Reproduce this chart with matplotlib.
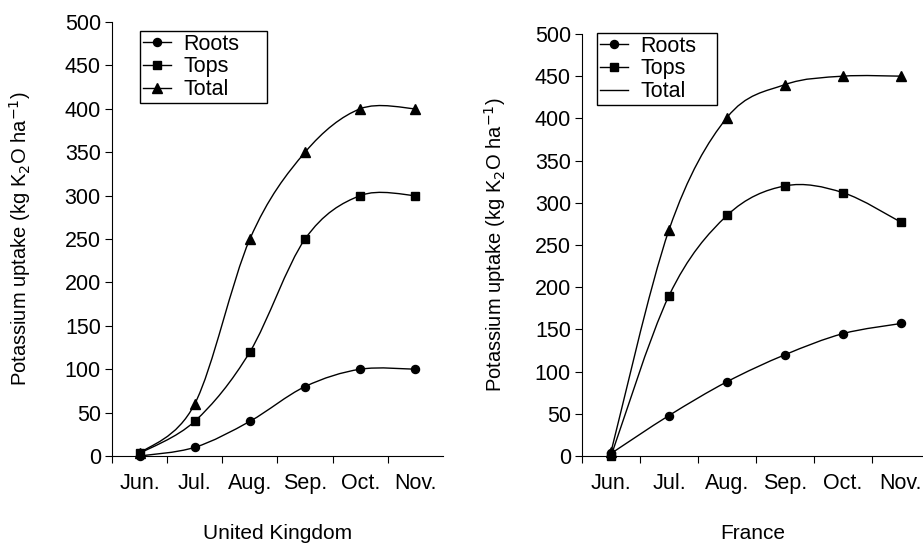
import matplotlib.pyplot as plt
import numpy as np
from matplotlib.lines import Line2D
from matplotlib.path import Path
from matplotlib.patches import PathPatch

plt.rcParams['font.family'] = ['Liberation Sans', 'DejaVu Sans']

months = ['Jun.', 'Jul.', 'Aug.', 'Sep.', 'Oct.', 'Nov.']

uk_roots = [0, 10, 40, 80, 100, 100]
uk_tops = [3, 40, 120, 250, 300, 300]
uk_total = [3, 60, 250, 350, 400, 400]

fr_roots = [3, 48, 88, 120, 145, 157]
fr_tops = [0, 190, 285, 320, 312, 277]
fr_total = [5, 268, 401, 440, 450, 450]

y_label = 'Potassium uptake (kg K$_2$O ha$^{-1}$)'


def smooth_path(xs, ys):
    # cubic bezier through the points, like a spreadsheet "smoothed line"
    pts = np.column_stack([xs, ys]).astype(float)
    ext = np.vstack([pts[0], pts, pts[-1]])
    verts = [pts[0]]
    codes = [Path.MOVETO]
    for i in range(len(pts) - 1):
        p0, p1, p2, p3 = ext[i], ext[i + 1], ext[i + 2], ext[i + 3]
        c1 = p1 + (p2 - p0) / 6
        c2 = p2 - (p3 - p1) / 6
        verts += [c1, c2, p2]
        codes += [Path.CURVE4] * 3
    return Path(verts, codes)


def draw_panel(ax, series, title, total_marker_in_legend, xmax, leg_box, ylab_x):
    x = np.arange(len(months)) + 0.5
    markers = ['o', 's', '^']
    sizes = [5.8, 6.2, 7.2]
    names = ['Roots', 'Tops', 'Total']
    for ys, m, ms in zip(series, markers, sizes):
        ax.add_patch(PathPatch(smooth_path(x, ys), facecolor='none',
                               edgecolor='black', lw=1.0, zorder=2))
        ax.plot(x, ys, ls='none', marker=m, ms=ms, color='black', zorder=3,
                clip_on=False)
    handles = [Line2D([], [], color='black', lw=1.0, marker='o', ms=5.8),
               Line2D([], [], color='black', lw=1.0, marker='s', ms=6.2)]
    if total_marker_in_legend:
        handles.append(Line2D([], [], color='black', lw=1.0, marker='^', ms=7.2))
    else:
        handles.append(Line2D([], [], color='black', lw=1.0))
    leg = ax.legend(handles, names, loc='upper left', fontsize=15.5,
                    bbox_to_anchor=leg_box, mode='expand',
                    frameon=True, fancybox=False, framealpha=1,
                    edgecolor='black', handlelength=1.3, handletextpad=0.6,
                    labelspacing=0.08, borderpad=0.12, borderaxespad=0)
    leg.get_frame().set_linewidth(1.0)

    ax.set_xlim(0, xmax)
    ax.set_ylim(0, 500)
    ax.set_yticks(np.arange(0, 501, 50))
    ax.set_xticks(np.arange(0, 6))
    ax.set_xticks(x, minor=True)
    ax.set_xticklabels([])
    ax.set_xticklabels(months, minor=True)
    ax.tick_params(axis='x', which='minor', length=0, pad=12, labelsize=15.5)
    ax.tick_params(axis='x', which='major', length=5, direction='out')
    ax.tick_params(axis='y', length=5, direction='out', labelsize=15.5, pad=3)
    for s in ['top', 'right']:
        ax.spines[s].set_visible(False)
    ax.set_ylabel(y_label, fontsize=14.5)
    ax.yaxis.set_label_coords(ylab_x, 0.5)
    ax.set_xlabel(title, fontsize=15, labelpad=22)


fig = plt.figure(figsize=(9.23, 5.46), dpi=100)
ax1 = fig.add_axes([0.1213, 0.1648, 0.3587, 0.795])
ax2 = fig.add_axes([0.6306, 0.1648, 0.3694, 0.773])

draw_panel(ax1, [uk_roots, uk_tops, uk_total], 'United Kingdom', True, 6,
           (0.085, 0.979, 0.384, 0.0), -0.239)
draw_panel(ax2, [fr_roots, fr_tops, fr_total], 'France', False, 5.88,
           (0.044, 1.002, 0.352, 0.0), -0.217)

fig.savefig('out.png', dpi=100)
